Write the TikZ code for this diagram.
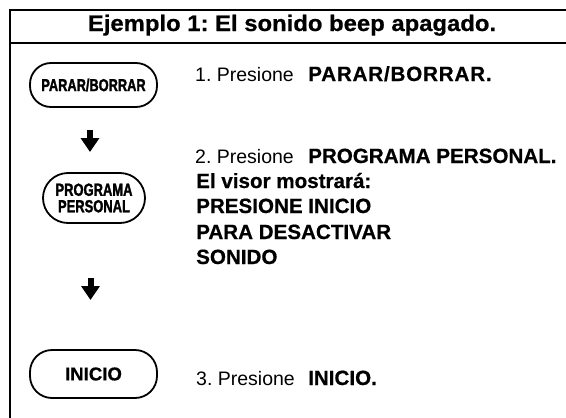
\documentclass[tikz,border=0pt]{standalone}
\usepackage{fontspec}
\setmainfont{Liberation Sans}[BoldFeatures={FakeBold=0.6}]
\newfontfamily\condfont{Liberation Sans}[FakeStretch=0.74,BoldFeatures={FakeStretch=0.74,FakeBold=1.6}]
\newfontfamily\widefont{Liberation Sans}[BoldFeatures={FakeStretch=1.06,FakeBold=0.6}]
\usetikzlibrary{arrows.meta}
\frenchspacing
\begin{document}
\begin{tikzpicture}[x=1pt,y=-1pt,
  frame/.style={line width=2pt},
  button/.style={draw, line width=1.8pt, inner sep=0pt, align=center},
  reg/.style={anchor=base west, inner sep=0pt, font=\fontsize{19.5}{23}\selectfont},
  bld/.style={anchor=base west, inner sep=0pt, font=\fontsize{20.6}{25}\selectfont\bfseries},
  flow/.style={line width=6pt, -{Triangle[width=18pt,length=14pt]}}]
\useasboundingbox (0,0) rectangle (566,418);
% frame
\coordinate (tl) at (10,10);
\coordinate (tr) at (566,10);
\coordinate (hl) at (10,43);
\coordinate (hr) at (566,43);
\coordinate (bl) at (10,418);
\draw[frame] (tr) -- (tl) -- (bl);
\draw[frame] (hl) -- (hr);
\node[anchor=base, inner sep=0pt, font=\widefont\fontsize{22.5}{25}\selectfont\bfseries] (title) at (292,31) {Ejemplo 1: El sonido beep apagado.};
% buttons
\node[button, rounded corners=21pt, minimum width=127pt, minimum height=44pt,
  font=\condfont\fontsize{17.3}{17.3}\selectfont\bfseries] (b1) at (93.5,85) {PARAR/BORRAR};
\node[button, rounded corners=25pt, minimum width=102pt, minimum height=50pt,
  font=\condfont\fontsize{17.5}{16.5}\selectfont\bfseries] (b2) at (94,198) {PROGRAMA\\PERSONAL};
\node[button, rounded corners=22pt, minimum width=127pt, minimum height=48pt,
  font=\fontsize{18.6}{18.6}\selectfont\bfseries] (b3) at (93.5,374) {INICIO};
% arrows
\coordinate (a1s) at (90,130);
\coordinate (a1e) at (90,152);
\coordinate (a2s) at (90.5,278);
\coordinate (a2e) at (90.5,300);
\draw[flow] (a1s) -- (a1e);
\draw[flow] (a2s) -- (a2e);
% texts
\node[reg] (s1) at (195,81) {1. Presione};
\node[bld] (s1b) at (308,81) {\addfontfeature{LetterSpace=4}PARAR/BORRAR.};
\node[reg] (s2) at (195,163) {2. Presione};
\node[bld] (s2b) at (308,163) {PROGRAMA PERSONAL.};
\node[bld] (v1) at (196,188) {El visor mostrará:};
\node[bld] (v2) at (196,213) {PRESIONE INICIO};
\node[bld] (v3) at (196,239) {PARA DESACTIVAR};
\node[bld] (v4) at (196,264) {SONIDO};
\node[reg] (s3) at (196,385) {3. Presione};
\node[bld] (s3b) at (308,385) {INICIO.};
\end{tikzpicture}
\end{document}
